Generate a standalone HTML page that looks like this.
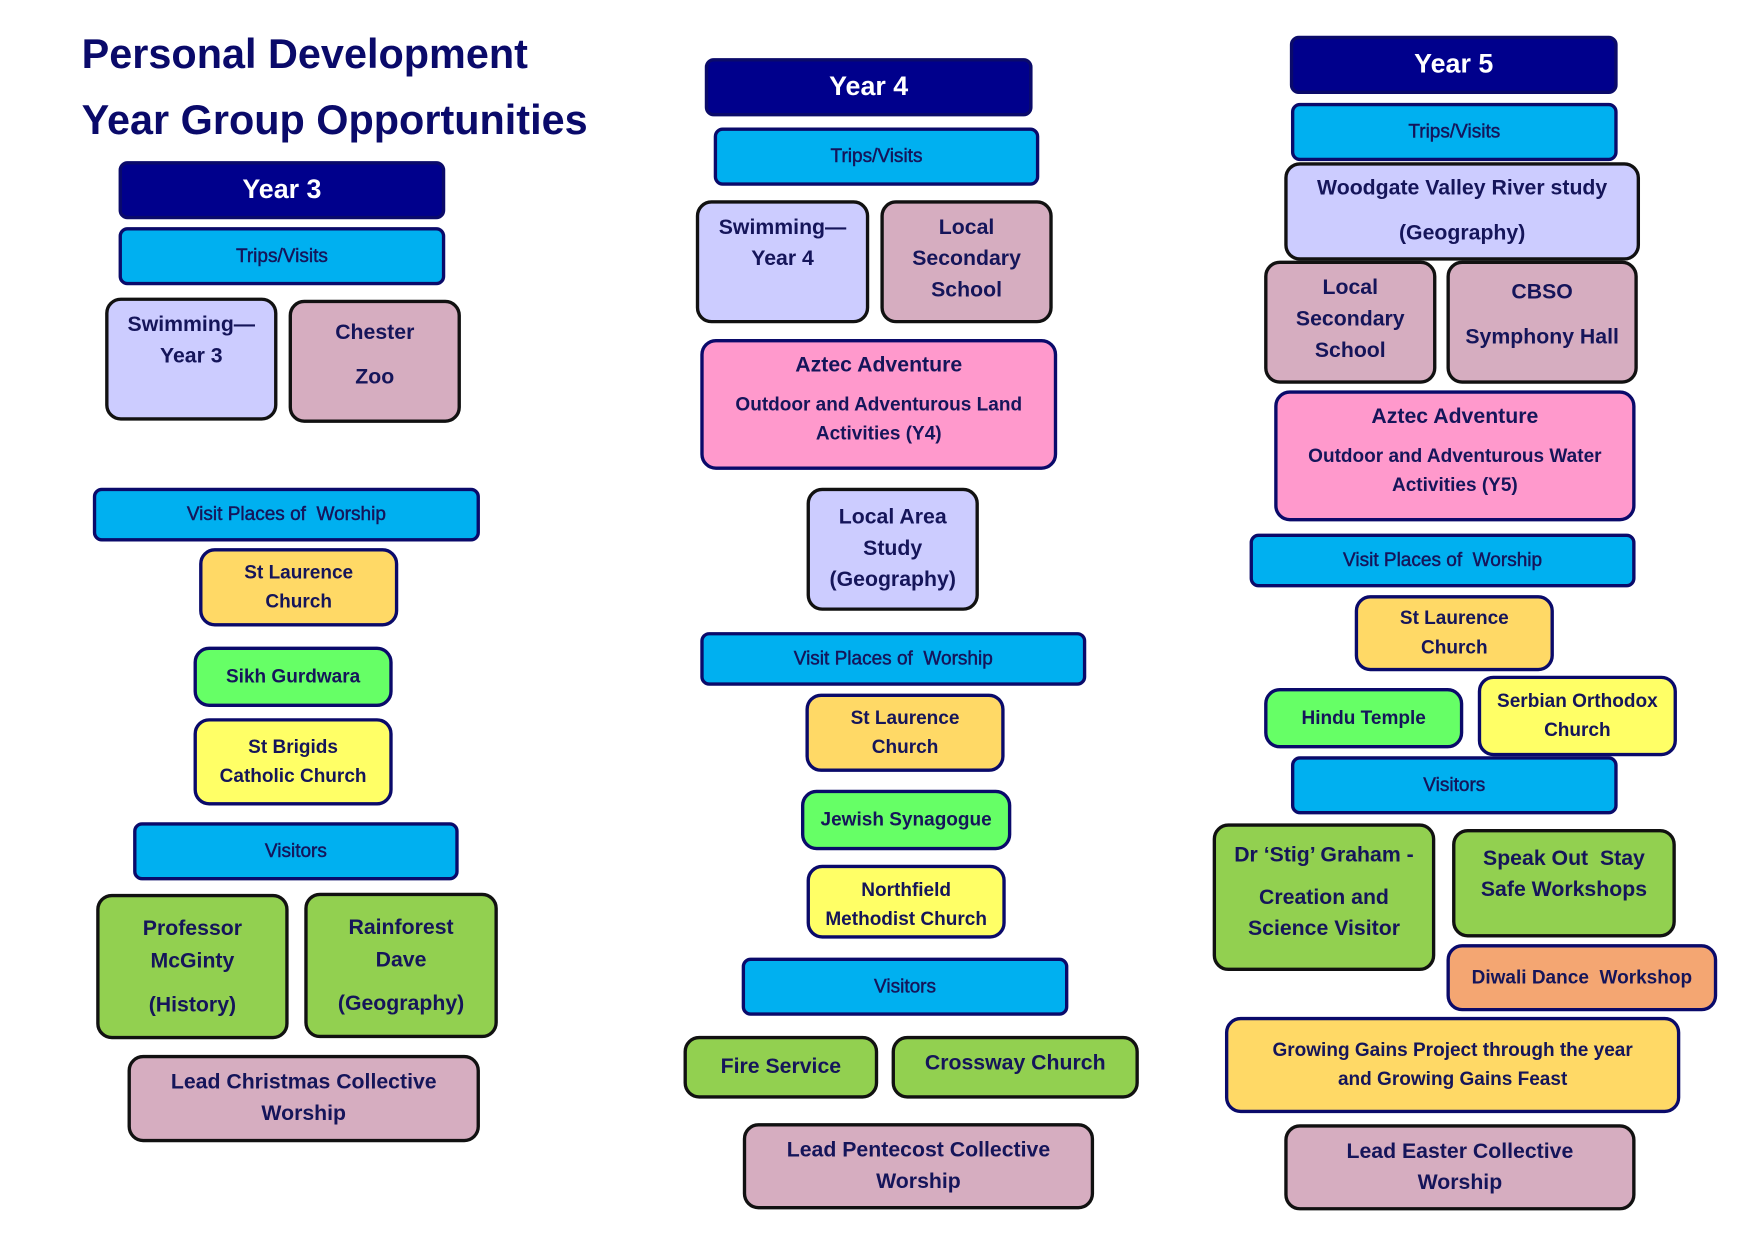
<!DOCTYPE html>
<html><head><meta charset="utf-8"><style>
html,body{margin:0;padding:0;background:#fff;width:1754px;height:1240px;overflow:hidden}
#w{position:absolute;left:0;top:0;width:1560px;height:1103px;transform:scale(1.1187);transform-origin:0 0;font-family:"Liberation Sans",Arial,sans-serif;font-weight:bold;color:#15155a}
.b{position:absolute;box-sizing:border-box;border:3px solid #111;border-radius:14px;display:flex;align-items:center;justify-content:center;text-align:center;font-size:19px;line-height:28px}
.n{border-color:#0a0a6a}
.yr{background:#00008c;color:#fff;font-size:24px;border-color:#0a0a6a;border-radius:8px}
.tv{background:#00b0f0;border-color:#0a0a6a;font-size:17px;font-weight:normal;-webkit-text-stroke:.4px #15155a;border-radius:8px}
.lav{background:#ccccff}.mau{background:#d6adc0}.pink{background:#ff99cc}
.yo{background:#ffd966;font-size:17px;line-height:26px}.gr{background:#66ff66;font-size:17px}.yel{background:#ffff66;font-size:17px;line-height:26px}
.lg{background:#92d050}.or{background:#f4a672;font-size:17px}
.t{position:absolute;font-size:37px;color:#0a0a6a;left:73px;white-space:nowrap}
.top{align-items:flex-start;padding-top:8px}
</style></head><body><div id="w">
<div class="t" style="top:28px">Personal Development</div>
<div class="t" style="top:87px">Year Group Opportunities</div>

<div class="b yr" style="left:106px;top:144px;width:292px;height:52px"><div>Year 3</div></div>
<div class="b tv" style="left:106px;top:203px;width:292px;height:52px"><div>Trips/Visits</div></div>
<div class="b lav top" style="left:94px;top:266px;width:154px;height:110px"><div>Swimming—<br>Year 3</div></div>
<div class="b mau" style="left:258px;top:268px;width:154px;height:110px;line-height:40px;padding-bottom:10px"><div>Chester<br>Zoo</div></div>
<div class="b tv" style="left:83px;top:436px;width:346px;height:48px"><div>Visit Places of &nbsp;Worship</div></div>
<div class="b yo n" style="left:178px;top:490px;width:178px;height:70px"><div>St Laurence<br>Church</div></div>
<div class="b gr n" style="left:173px;top:578px;width:178px;height:54px"><div>Sikh Gurdwara</div></div>
<div class="b yel n" style="left:173px;top:642px;width:178px;height:78px"><div>St Brigids<br>Catholic Church</div></div>
<div class="b tv" style="left:119px;top:735px;width:291px;height:52px"><div>Visitors</div></div>
<div class="b lg" style="left:86px;top:799px;width:172px;height:130px;line-height:29px"><div>Professor<br>McGinty<div style="margin-top:10px">(History)</div></div></div>
<div class="b lg" style="left:272px;top:798px;width:173px;height:130px;line-height:29px"><div>Rainforest<br>Dave<div style="margin-top:10px">(Geography)</div></div></div>
<div class="b mau" style="left:114px;top:943px;width:315px;height:78px"><div>Lead Christmas Collective<br>Worship</div></div>

<div class="b yr" style="left:630px;top:52px;width:293px;height:52px"><div>Year 4</div></div>
<div class="b tv" style="left:638px;top:114px;width:291px;height:52px"><div>Trips/Visits</div></div>
<div class="b lav top" style="left:622px;top:179px;width:155px;height:110px"><div>Swimming—<br>Year 4</div></div>
<div class="b mau top" style="left:787px;top:179px;width:154px;height:110px"><div>Local<br>Secondary<br>School</div></div>
<div class="b pink n" style="left:626px;top:303px;width:319px;height:117px;padding-bottom:10px"><div><div>Aztec Adventure</div><div style="font-size:17px;line-height:26px;margin-top:8px">Outdoor and Adventurous Land<br>Activities (Y4)</div></div></div>
<div class="b lav" style="left:721px;top:436px;width:154px;height:110px"><div>Local Area<br>Study<br>(Geography)</div></div>
<div class="b tv" style="left:626px;top:565px;width:345px;height:48px"><div>Visit Places of &nbsp;Worship</div></div>
<div class="b yo n" style="left:720px;top:620px;width:178px;height:70px"><div>St Laurence<br>Church</div></div>
<div class="b gr n" style="left:716px;top:706px;width:188px;height:54px"><div>Jewish Synagogue</div></div>
<div class="b yel n" style="left:721px;top:773px;width:178px;height:66px;padding-top:6px"><div>Northfield<br>Methodist Church</div></div>
<div class="b tv" style="left:663px;top:856px;width:292px;height:52px"><div>Visitors</div></div>
<div class="b lg" style="left:611px;top:926px;width:174px;height:56px"><div>Fire Service</div></div>
<div class="b lg" style="left:797px;top:926px;width:221px;height:56px;padding-bottom:6px"><div>Crossway Church</div></div>
<div class="b mau" style="left:664px;top:1004px;width:314px;height:77px"><div>Lead Pentecost Collective<br>Worship</div></div>

<div class="b yr" style="left:1153px;top:32px;width:293px;height:52px"><div>Year 5</div></div>
<div class="b tv" style="left:1154px;top:92px;width:292px;height:52px"><div>Trips/Visits</div></div>
<div class="b lav" style="left:1148px;top:145px;width:318px;height:88px;line-height:40px"><div>Woodgate Valley River study<br>(Geography)</div></div>
<div class="b mau top" style="left:1130px;top:233px;width:154px;height:110px"><div>Local<br>Secondary<br>School</div></div>
<div class="b mau" style="left:1293px;top:233px;width:171px;height:110px;line-height:40px;padding-bottom:12px"><div>CBSO<br>Symphony Hall</div></div>
<div class="b pink n" style="left:1139px;top:349px;width:323px;height:117px;padding-bottom:10px"><div><div>Aztec Adventure</div><div style="font-size:17px;line-height:26px;margin-top:8px">Outdoor and Adventurous Water<br>Activities (Y5)</div></div></div>
<div class="b tv" style="left:1117px;top:477px;width:345px;height:48px"><div>Visit Places of &nbsp;Worship</div></div>
<div class="b yo n" style="left:1211px;top:532px;width:178px;height:68px"><div>St Laurence<br>Church</div></div>
<div class="b gr n" style="left:1130px;top:615px;width:178px;height:54px"><div>Hindu Temple</div></div>
<div class="b yel n" style="left:1321px;top:604px;width:178px;height:72px"><div>Serbian Orthodox<br>Church</div></div>
<div class="b tv" style="left:1154px;top:676px;width:292px;height:52px"><div>Visitors</div></div>
<div class="b lg top" style="left:1084px;top:736px;width:199px;height:132px;padding-top:12px"><div><div style="line-height:28px">Dr ‘Stig’ Graham -</div><div style="line-height:28px;margin-top:10px">Creation and<br>Science Visitor</div></div></div>
<div class="b lg top" style="left:1298px;top:741px;width:200px;height:97px;padding-top:10px"><div>Speak Out &nbsp;Stay<br>Safe Workshops</div></div>
<div class="b or n" style="left:1293px;top:844px;width:242px;height:60px"><div>Diwali Dance &nbsp;Workshop</div></div>
<div class="b yo n" style="left:1095px;top:909px;width:407px;height:86px"><div>Growing Gains Project through the year<br>and Growing Gains Feast</div></div>
<div class="b mau" style="left:1148px;top:1005px;width:314px;height:77px"><div>Lead Easter Collective<br>Worship</div></div>
</div></body></html>
